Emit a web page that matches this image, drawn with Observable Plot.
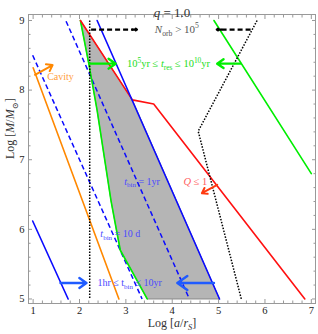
<!DOCTYPE html>
<html><head><meta charset="utf-8">
<script src="https://cdn.jsdelivr.net/npm/d3@7"></script>
<script src="https://cdn.jsdelivr.net/npm/@observablehq/plot@0.6"></script>
<style>body{margin:0;background:#fff} svg{display:block}</style>
</head><body><div id="chart"></div>
<script>
// ---- tick values ----
const xMajor = [1, 2, 3, 4, 5, 6, 7];
const yMajor = [5, 6, 7, 8, 9];
const xMinor = d3.range(1, 7.01, 0.2).filter(v => Math.abs(v - Math.round(v)) > 1e-6);
const yMinor = d3.range(5, 9.01, 0.2).filter(v => Math.abs(v - Math.round(v)) > 1e-6);

// ---- curves (Log a/rS , Log M) ----
const orangeX = [1.00, 2.85],  orangeY = [8.32, 5.0];
const blueLeftX = [0.99, 1.755], blueLeftY = [6.12, 5.0];
const blue10dX = [0.99, 3.35], blue10dY = [8.50, 5.0];
const blue1yrX = [1.71, 4.37], blue1yrY = [8.99, 5.0];
const blueRightX = [2.38, 5.02], blueRightY = [9.0, 5.0];
const greenLeftX = [2.02, 2.20, 2.38, 2.68, 2.80, 2.88, 3.46];
const greenLeftY = [9.00, 8.38, 7.71, 6.41, 5.98, 5.70, 5.00];
const greenRightX = [4.90, 7.00], greenRightY = [9.0, 6.8];
const redX = [2.02, 3.14, 3.60, 6.86], redY = [9.0, 7.86, 7.80, 5.0];
const dotLeftX = [2.22, 2.22], dotLeftY = [9.0, 5.0];
const dotRightX = [5.83, 4.56, 5.49], dotRightY = [9.0, 7.41, 5.0];
// shaded allowed region
const shadeX = [2.02, 3.14, 5.02, 3.46, 2.88, 2.80, 2.68, 2.38, 2.20, 2.02];
const shadeY = [9.00, 7.86, 5.00, 5.00, 5.70, 5.98, 6.41, 7.71, 8.38, 9.00];

// ---- arrows ----
const normArrowX1 = [2.25, 5.69], normArrowX2 = [3.24, 4.96], normArrowY = 8.87;
const tresArrowX1 = [2.22, 5.47], tresArrowX2 = [2.78, 4.97], tresArrowY = 8.38;
const tbinArrowX1 = [1.59, 4.90], tbinArrowX2 = [2.15, 4.11], tbinArrowY = 5.23;
const qArrow = {x1: 4.97, y1: 6.64, x2: 4.64, y2: 6.52};
const cavityArrow = {x1: 1.04, y1: 8.22, x2: 1.42, y2: 8.36};

// ---- annotations ----
const annText = ["*N*_{orb} > 10^{5}", "10^{5}yr ≤ *t*_{res} ≤ 10^{10}yr", "Cavity", "*Q* ≤ 1",
                 "*t*_{bin} = 1yr", "*t*_{bin} = 10 d", "1hr ≤ t_{bin} ≤ 10yr"];
const annX = [4.10, 3.92, 1.59, 4.50, 3.35, 2.88, 3.08];
const annY = [8.87, 8.38, 8.19, 6.69, 6.69, 5.94, 5.23];
const annColor = ["#555555", "#22dd22", "#ffa040", "#ff6060", "#4a4aff", "#4a4aff", "#4a4aff"];
const annSize = [11, 10.5, 10, 10.5, 10, 10, 10];

const mk = (xs, ys) => xs.map((x, i) => ({x, y: ys[i]}));
const ann = annText.map((t, i) => ({t, x: annX[i], y: annY[i], c: annColor[i], s: annSize[i]}));
const hArrows = (x1s, x2s, y) => x1s.map((x1, i) => ({x1, x2: x2s[i], y}));

const font = "Liberation Serif, DejaVu Serif, serif";
const tickCol = "#999";

const solid = (xs, ys, color) => Plot.line(mk(xs, ys), {x: "x", y: "y", stroke: color, strokeWidth: 1.6});
const dashed = (xs, ys, color, dash, w) => Plot.line(mk(xs, ys), {x: "x", y: "y", stroke: color, strokeWidth: w, strokeDasharray: dash, strokeLinecap: "butt"});

const chart = Plot.plot({
  width: 318, height: 334,
  marginLeft: 28, marginRight: 3, marginTop: 14, marginBottom: 31,
  style: {fontFamily: font, fontSize: "10px", color: "#222", background: "#fff"},
  x: {domain: [0.9, 7.09]},
  y: {domain: [4.935, 9.086]},
  marks: [
    Plot.line(mk(shadeX, shadeY), {x: "x", y: "y", fill: "#b5b5b5", stroke: "#8a8a8a", strokeWidth: 1}),
    solid(orangeX, orangeY, "#ff8800"),
    solid(blueLeftX, blueLeftY, "#0a0aff"),
    dashed(blue10dX, blue10dY, "#0a0aff", "5,3", 1.5),
    dashed(blue1yrX, blue1yrY, "#0a0aff", "5,3", 1.5),
    solid(greenLeftX, greenLeftY, "#00ee00"),
    solid(greenRightX, greenRightY, "#00ee00"),
    solid(redX, redY, "#ff1010"),
    solid(blueRightX, blueRightY, "#0a0aff"),
    dashed(dotLeftX, dotLeftY, "#000", "1.5,1.5", 1.5),
    dashed(dotRightX, dotRightY, "#000", "1.5,1.5", 1.5),
    // black dashed arrows
    Plot.link(hArrows(normArrowX1, normArrowX2, normArrowY), {x1: "x1", x2: d => d.x2 - 0.08 * Math.sign(d.x2 - d.x1), y1: "y", y2: "y", stroke: "#000", strokeWidth: 2.2, strokeDasharray: "5,3", strokeLinecap: "butt"}),
    Plot.arrow(hArrows(normArrowX1, normArrowX2, normArrowY), {x1: d => d.x2 - 0.1 * Math.sign(d.x2 - d.x1), x2: "x2", y1: "y", y2: "y", stroke: "#000", strokeWidth: 2.2, headLength: 8, headAngle: 70}),
    Plot.arrow(hArrows(tresArrowX1, tresArrowX2, tresArrowY), {x1: "x1", x2: "x2", y1: "y", y2: "y", stroke: "#00ee00", strokeWidth: 2.4, headLength: 8, headAngle: 70}),
    Plot.arrow(hArrows(tbinArrowX1, tbinArrowX2, tbinArrowY), {x1: "x1", x2: "x2", y1: "y", y2: "y", stroke: "#1f5bff", strokeWidth: 2.4, headLength: 8, headAngle: 70}),
    Plot.arrow([qArrow], {x1: "x1", y1: "y1", x2: "x2", y2: "y2", stroke: "#ff3a10", strokeWidth: 2, headLength: 7, headAngle: 70}),
    Plot.arrow([cavityArrow], {x1: "x1", y1: "y1", x2: "x2", y2: "y2", stroke: "#ff8800", strokeWidth: 2, headLength: 7, headAngle: 70}),
    Plot.text(ann, {x: "x", y: "y", text: "t", fill: "c", fontSize: "s", className: "rich"}),
    Plot.frame({stroke: tickCol}),
    // ticks
    Plot.axisX({anchor: "bottom", ticks: xMajor, tickSize: 0, tickPadding: 3, tickFormat: d3.format("d"), label: null, fontSize: 10.5}),
    Plot.axisY({anchor: "left", ticks: yMajor, tickSize: 0, tickPadding: 4, tickFormat: d3.format("d"), label: null, fontSize: 10.5}),
    ...["bottom", "top"].flatMap(a => [
      Plot.axisX({anchor: a, ticks: xMajor, tickSize: -4, stroke: tickCol, tickFormat: () => "", label: null}),
      Plot.axisX({anchor: a, ticks: xMinor, tickSize: -2.5, stroke: tickCol, tickFormat: () => "", label: null})
    ]),
    ...["left", "right"].flatMap(a => [
      Plot.axisY({anchor: a, ticks: yMajor, tickSize: -4, stroke: tickCol, tickFormat: () => "", label: null}),
      Plot.axisY({anchor: a, ticks: yMinor, tickSize: -2.5, stroke: tickCol, tickFormat: () => "", label: null})
    ]),
    // titles
    Plot.text(["*q* = 1.0"], {frameAnchor: "top", dy: -7, fontSize: 13, fill: "#333", className: "rich"}),
    Plot.text(["Log [*a*/*r*_{*S*}]"], {frameAnchor: "bottom", dy: 23, fontSize: 12, fill: "#333", className: "rich"}),
    Plot.text(["Log [*M*/*M*_{⊙}]"], {frameAnchor: "left", dx: -18, rotate: -90, fontSize: 12, fill: "#333", className: "rich"})
  ]
});

// rich-text: *italic*, _{sub}, ^{sup}
const NS = "http://www.w3.org/2000/svg";
function rich(el) {
  const src = el.textContent;
  const fs = parseFloat(getComputedStyle(el).fontSize) || 10;
  while (el.firstChild) el.removeChild(el.firstChild);
  const re = /_\{([^}]*)\}|\^\{([^}]*)\}|\*([^*]*)\*|([^_^*]+)/g;
  let m, shift = 0;
  while ((m = re.exec(src))) {
    let content, target = 0, small = false, ital = false;
    if (m[1] !== undefined) { content = m[1]; target = 0.28; small = true; }
    else if (m[2] !== undefined) { content = m[2]; target = -0.42; small = true; }
    else if (m[3] !== undefined) { content = m[3]; ital = true; }
    else content = m[4];
    if (content.length > 2 && content.startsWith("*") && content.endsWith("*")) { ital = true; content = content.slice(1, -1); }
    if (!content) continue;
    const t = document.createElementNS(NS, "tspan");
    t.textContent = content;
    if (small) t.setAttribute("font-size", (fs * 0.7).toFixed(2));
    if (ital) t.setAttribute("font-style", "italic");
    const d = (target - shift) * fs;
    if (d !== 0) t.setAttribute("dy", d.toFixed(2));
    shift = target;
    el.appendChild(t);
  }
}
document.getElementById("chart").appendChild(chart);
chart.querySelectorAll("g.rich text").forEach(rich);
</script>
</body></html>
